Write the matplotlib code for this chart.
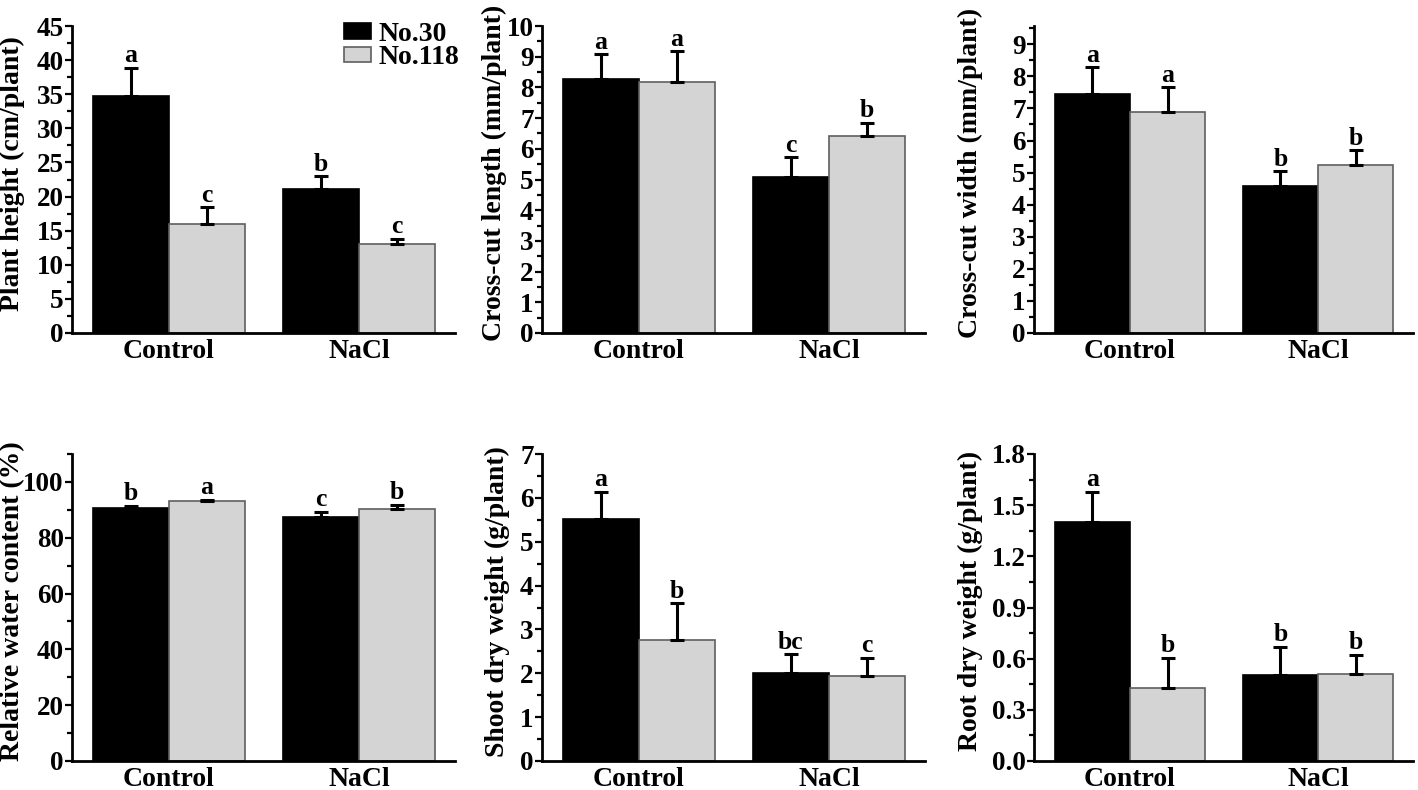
import numpy as np
import matplotlib
matplotlib.use("Agg")
import matplotlib.pyplot as plt
from matplotlib.ticker import MultipleLocator, FormatStrFormatter
from matplotlib.patches import Patch

plt.rcParams['font.family'] = ['Liberation Serif', 'DejaVu Serif']
plt.rcParams['font.weight'] = 'bold'

groups = ["Control", "NaCl"]
series = ["No.30", "No.118"]
colors = ["#000000", "#d4d4d4"]
edges = ["#000000", "#5f5f5f"]

# plant height (cm/plant)
height_no30 = [34.8, 21.1]
height_no30_err = [4.1, 1.9]
height_no118 = [16.0, 13.0]
height_no118_err = [2.4, 0.8]
height_letters = [["a", "b"], ["c", "c"]]

# cross-cut length (mm/plant)
length_no30 = [8.28, 5.08]
length_no30_err = [0.80, 0.64]
length_no118 = [8.17, 6.43]
length_no118_err = [1.00, 0.41]
length_letters = [["a", "c"], ["a", "b"]]

# cross-cut width (mm/plant)
width_no30 = [7.46, 4.59]
width_no30_err = [0.83, 0.45]
width_no118 = [6.88, 5.25]
width_no118_err = [0.78, 0.44]
width_letters = [["a", "b"], ["a", "b"]]

# relative water content (%)
rwc_no30 = [90.5, 87.6]
rwc_no30_err = [0.9, 1.6]
rwc_no118 = [93.0, 90.3]
rwc_no118_err = [0.6, 1.5]
rwc_letters = [["b", "c"], ["a", "b"]]

# shoot dry weight (g/plant)
shoot_no30 = [5.51, 2.00]
shoot_no30_err = [0.63, 0.43]
shoot_no118 = [2.76, 1.94]
shoot_no118_err = [0.84, 0.41]
shoot_letters = [["a", "bc"], ["b", "c"]]

# root dry weight (g/plant)
root_no30 = [1.40, 0.504]
root_no30_err = [0.18, 0.166]
root_no118 = [0.429, 0.508]
root_no118_err = [0.176, 0.115]
root_letters = [["a", "b"], ["b", "b"]]

panels = [
    ("Plant height (cm/plant)", [height_no30, height_no118], [height_no30_err, height_no118_err],
     height_letters, 45, 5, 2.5, '%d'),
    ("Cross-cut length (mm/plant)", [length_no30, length_no118], [length_no30_err, length_no118_err],
     length_letters, 10, 1, 0.5, '%d'),
    ("Cross-cut width (mm/plant)", [width_no30, width_no118], [width_no30_err, width_no118_err],
     width_letters, 9.57, 1, 0.5, '%d'),
    ("Relative water content (%)", [rwc_no30, rwc_no118], [rwc_no30_err, rwc_no118_err],
     rwc_letters, 110, 20, 10, '%d'),
    ("Shoot dry weight (g/plant)", [shoot_no30, shoot_no118], [shoot_no30_err, shoot_no118_err],
     shoot_letters, 7, 1, 0.5, '%d'),
    ("Root dry weight (g/plant)", [root_no30, root_no118], [root_no30_err, root_no118_err],
     root_letters, 1.8, 0.3, 0.15, '%.1f'),
]

W, H = 1418, 790
fig = plt.figure(figsize=(W / 100, H / 100), dpi=100)

# axes boxes in pixels: (left, right) per column, (top, bottom) per row
cols = [(72, 455), (542, 925), (1034, 1413)]
rows = [(26, 333), (454, 761)]
# right edge of the rotated y label, in axes fraction
label_x = [[-0.123, -0.091, -0.135], [-0.123, -0.084, -0.135]]

bar_w = 0.4
x = np.arange(len(groups))

for i, (ylabel, means, errs, letters, ymax, major, minor, fmt) in enumerate(panels):
    r, c = divmod(i, 3)
    l, rt = cols[c]
    t, b = rows[r]
    ax = fig.add_axes([l / W, 1 - b / H, (rt - l) / W, (b - t) / H])

    for s in range(2):
        xs = x + (s - 0.5) * bar_w
        ax.bar(xs, means[s], width=bar_w, color=colors[s], edgecolor=edges[s],
               linewidth=1.2, label=series[s], zorder=2)
        ax.errorbar(xs, means[s], yerr=[np.zeros(len(groups)), errs[s]], fmt='none',
                    ecolor='black', elinewidth=2.2, capsize=5, capthick=2.2, zorder=3)
        for g in range(len(groups)):
            ax.annotate(letters[s][g], (xs[g], means[s][g] + errs[s][g]),
                        xytext=(0, 4), textcoords='offset points', ha='center',
                        va='baseline', fontsize=18.5, fontweight='bold')

    ax.set_xlim(-0.51, 1.505)
    ax.set_ylim(0, ymax)
    ax.set_xticks(x)
    ax.set_xticklabels(groups, fontsize=20, fontweight='bold')
    ax.yaxis.set_major_locator(MultipleLocator(major))
    ax.yaxis.set_minor_locator(MultipleLocator(minor))
    ax.yaxis.set_major_formatter(FormatStrFormatter(fmt))
    ax.tick_params(axis='x', length=0, pad=4)
    ax.tick_params(axis='y', which='major', direction='out', length=5, width=1.6,
                   pad=1, labelsize=19.5)
    ax.tick_params(axis='y', which='minor', direction='out', length=3.5, width=1.6)
    for lab in ax.get_yticklabels():
        lab.set_fontweight('bold')
    for side in ['top', 'right']:
        ax.spines[side].set_visible(False)
    for side in ['left', 'bottom']:
        ax.spines[side].set_linewidth(2)
    ax.set_ylabel(ylabel, fontsize=20, fontweight='bold')
    ax.yaxis.set_label_coords(label_x[r][c], 0.52)

    if i == 0:
        handles = [Patch(facecolor=colors[s], edgecolor=edges[s], linewidth=1.2)
                   for s in range(2)]
        ax.legend(handles, series, loc='upper left', bbox_to_anchor=(0.68, 1.05),
                  frameon=False, handlelength=1.0, handleheight=0.5,
                  handletextpad=0.25, labelspacing=-0.05, borderaxespad=0,
                  prop={'weight': 'bold', 'size': 20})

fig.savefig("out.png", dpi=100)
